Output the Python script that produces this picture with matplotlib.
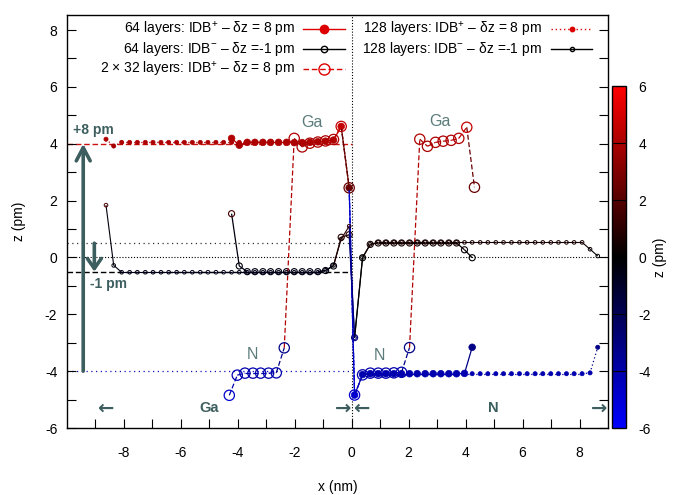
import numpy as np
import matplotlib
matplotlib.use('Agg')
import matplotlib.pyplot as plt
from matplotlib.collections import LineCollection
from matplotlib.colors import LinearSegmentedColormap, Normalize
from matplotlib.cm import ScalarMappable
from matplotlib.ticker import FixedLocator

plt.rcParams['font.family'] = ['Liberation Sans', 'DejaVu Sans']
plt.rcParams['mathtext.fontset'] = 'custom'
plt.rcParams['mathtext.rm'] = 'Liberation Sans'
plt.rcParams['mathtext.it'] = 'Liberation Sans:italic'
plt.rcParams['mathtext.bf'] = 'Liberation Sans:bold'
plt.rcParams['axes.unicode_minus'] = False

# ---------------- data ----------------
x128 = [-8.63, -8.36, -8.08, -7.80, -7.53, -7.25, -6.98, -6.70, -6.43, -6.15, -5.88, -5.60,
        -5.32, -5.05, -4.77, -4.50, -4.22, -3.95, -3.67, -3.40, -3.12, -2.85, -2.57, -2.29,
        -2.02, -1.74, -1.47, -1.19, -0.92, -0.64, -0.37, -0.09,
        0.10, 0.38, 0.65, 0.93, 1.20, 1.48, 1.75, 2.03, 2.30, 2.58, 2.86, 3.13, 3.41, 3.68,
        3.96, 4.23, 4.51, 4.78, 5.06, 5.33, 5.61, 5.89, 6.16, 6.44, 6.71, 6.99, 7.26, 7.54,
        7.81, 8.09, 8.37, 8.64]
z128_plus = [4.16, 3.92, 4.05, 4.05, 4.05, 4.05, 4.05, 4.05, 4.05, 4.05, 4.05, 4.05,
             4.05, 4.05, 4.05, 4.05, 4.05, 4.05, 4.05, 4.05, 4.05, 4.05, 4.05, 4.05,
             4.04, 4.04, 4.05, 4.07, 4.09, 4.13, 4.61, 2.45,
             -4.84, -4.12, -4.09, -4.09, -4.09, -4.09, -4.09, -4.09, -4.09, -4.09, -4.09, -4.09,
             -4.09, -4.09, -4.09, -4.09, -4.09, -4.09, -4.09, -4.09, -4.09, -4.09, -4.09, -4.09,
             -4.09, -4.09, -4.09, -4.09, -4.09, -4.09, -4.06, -3.16]
z128_minus = [1.84, -0.28, -0.52, -0.52, -0.52, -0.52, -0.52, -0.52, -0.52, -0.52, -0.52, -0.52,
              -0.52, -0.52, -0.52, -0.52, -0.52, -0.52, -0.52, -0.52, -0.52, -0.52, -0.52, -0.52,
              -0.52, -0.52, -0.52, -0.52, -0.45, -0.28, 0.65, 1.10,
              -2.82, 0.00, 0.46, 0.53, 0.53, 0.53, 0.53, 0.53, 0.53, 0.53, 0.53, 0.53,
              0.53, 0.53, 0.53, 0.53, 0.53, 0.53, 0.53, 0.53, 0.53, 0.53, 0.53, 0.53,
              0.53, 0.53, 0.53, 0.53, 0.53, 0.53, 0.29, 0.05]

x64 = [-4.22, -3.95, -3.67, -3.40, -3.12, -2.85, -2.57, -2.29, -2.02, -1.74, -1.47, -1.19,
       -0.92, -0.64, -0.37, -0.09,
       0.10, 0.38, 0.65, 0.93, 1.20, 1.48, 1.75, 2.03, 2.30, 2.58, 2.86, 3.13, 3.41, 3.68,
       3.96, 4.23]
z64_plus = [4.19, 3.95, 4.05, 4.05, 4.05, 4.05, 4.05, 4.05, 4.04, 4.04, 4.05, 4.07,
            4.09, 4.13, 4.61, 2.45,
            -4.84, -4.12, -4.09, -4.09, -4.09, -4.09, -4.09, -4.09, -4.09, -4.09, -4.09, -4.09,
            -4.09, -4.09, -4.08, -3.16]
z64_minus = [1.54, -0.30, -0.50, -0.50, -0.50, -0.50, -0.50, -0.50, -0.50, -0.50, -0.50, -0.50,
             -0.46, -0.30, 0.71, 0.80,
             -2.82, -0.01, 0.46, 0.51, 0.51, 0.51, 0.51, 0.51, 0.51, 0.51, 0.51, 0.51,
             0.51, 0.51, 0.27, -0.01]

x2x32 = [-4.30, -4.02, -3.75, -3.47, -3.20, -2.92, -2.65, -2.37,
         -2.02, -1.74, -1.47, -1.19, -0.92, -0.64, -0.37, -0.09,
         0.10, 0.38, 0.65, 0.93, 1.20, 1.48, 1.75, 2.03,
         2.39, 2.66, 2.94, 3.21, 3.49, 3.76, 4.04, 4.31]
z2x32 = [-4.85, -4.14, -4.07, -4.07, -4.07, -4.07, -4.06, -3.18,
         4.19, 3.89, 4.02, 4.06, 4.10, 4.15, 4.61, 2.45,
         -4.84, -4.13, -4.07, -4.07, -4.07, -4.06, -4.04, -3.17,
         4.16, 3.91, 4.05, 4.09, 4.12, 4.19, 4.58, 2.47]

labels = ["64 layers: IDB$^{+}$ – δz = 8 pm",
          "64 layers: IDB$^{-}$ – δz =-1 pm",
          "2 × 32 layers: IDB$^{+}$ – δz = 8 pm",
          "128 layers: IDB$^{+}$ – δz = 8 pm",
          "128 layers: IDB$^{-}$ – δz =-1 pm"]

# ---------------- figure ----------------
W, H = 678, 495
fig = plt.figure(figsize=(W / 100, H / 100), dpi=100)
L, R, T, B = 67, 608, 15, 428
ax = fig.add_axes([L / W, (H - B) / H, (R - L) / W, (B - T) / H])
ax.set_xlim(-10, 9)
ax.set_ylim(-6, 8.53)

cmap = LinearSegmentedColormap.from_list('bkr', [(0, (0, 0, 1)), (0.5, (0, 0, 0)), (1, (1, 0, 0))])
norm = Normalize(-6, 6)
slate = '#3d5e5e'
slate_l = '#5b7b7b'
red = '#dd0000'

# reference lines
ax.axvline(0, color='black', lw=0.8, ls=(0, (1, 1.6)), zorder=1)
ax.plot([-10, 9], [0, 0], color='black', lw=0.8, ls=(0, (1, 1.6)), zorder=1)
ax.plot([-10, 0], [0.5, 0.5], color='#333333', lw=0.9, ls=(0, (1, 2.8)), zorder=1)
ax.plot([-10, 0], [-0.5, -0.5], color='black', lw=1.0, ls=(0, (4, 2)), zorder=1)
ax.plot([-10, 0], [4, 4], color='#cc1111', lw=1.0, ls=(0, (4, 2)), zorder=1)
ax.plot([-10, 0], [-4, -4], color='#1111bb', lw=0.9, ls=(0, (1, 2.8)), zorder=1)


def series(x, z, ls, lw, ms, filled, zo, mew=0.8):
    x = np.asarray(x); z = np.asarray(z)
    pts = np.column_stack([x, z])
    segs = [pts[i:i + 2] for i in range(len(pts) - 1)]
    lc = LineCollection(segs, colors=cmap(norm(z[1:])), linestyles=ls, linewidths=lw, zorder=zo)
    ax.add_collection(lc)
    c = cmap(norm(z))
    if filled:
        ax.scatter(x, z, s=ms ** 2, c=c, edgecolors=c, linewidths=0.5, zorder=zo + 0.1)
    else:
        ax.scatter(x, z, s=ms ** 2, facecolors='none', edgecolors=c, linewidths=mew, zorder=zo + 0.1)


series(x64, z64_plus, '-', 0.9, 4.8, True, 3)
series(x64, z64_minus, '-', 0.9, 4.4, False, 3)
series(x2x32, z2x32, (0, (4, 2)), 0.9, 7.4, False, 4, mew=0.9)
series(x128, z128_plus, (0, (1, 2)), 0.9, 3.0, True, 5)
series(x128, z128_minus, '-', 0.8, 2.6, False, 5, mew=0.7)

# ---------------- legend (manual) ----------------
def fx(px):
    return (px - L) / (R - L)


def fy(py):
    return (B - py) / (B - T)


rows = [(295, 29, 303, 345, red, '-', 'o', 6.0, True),
        (295, 49, 303, 345, 'black', '-', 'o', 4.6, False),
        (295, 69, 303, 345, red, (0, (4, 2)), 'o', 8.0, False),
        (542, 29, 551, 592, red, (0, (1, 2)), 'o', 3.2, True),
        (542, 49, 551, 592, 'black', '-', 'o', 3.0, False)]
for lab, (tx, ty, l0, l1, col, ls, mk, ms, filled) in zip(labels, rows):
    ax.text(fx(tx), fy(ty), lab, transform=ax.transAxes, ha='right', va='center', fontsize=10)
    ax.plot([fx(l0), fx(l1)], [fy(ty), fy(ty)], transform=ax.transAxes, color=col, ls=ls, lw=1.0,
            clip_on=False, zorder=6)
    ax.plot([fx((l0 + l1) / 2)], [fy(ty)], transform=ax.transAxes, marker=mk, ms=ms,
            mfc=col if filled else 'none', mec=col, mew=1.0, clip_on=False, zorder=6)

# ---------------- annotations ----------------
ax.annotate('', xy=(-9.43, 4.0), xytext=(-9.43, -4.0),
            arrowprops=dict(arrowstyle='->,head_length=0.95,head_width=0.5', lw=2.6, color=slate,
                            shrinkA=0, shrinkB=0))
ax.annotate('', xy=(-9.04, -0.5), xytext=(-9.04, 0.5),
            arrowprops=dict(arrowstyle='->,head_length=0.72,head_width=0.5', lw=2.6, color=slate,
                            shrinkA=0, shrinkB=0))
ax.text(-9.8, 4.48, '+8 pm', color=slate, fontsize=10, fontweight='bold', ha='left', va='center')
ax.text(-9.2, -0.92, '-1 pm', color=slate, fontsize=10, fontweight='bold', ha='left', va='center')
ax.text(-1.40, 4.75, 'Ga', color=slate_l, fontsize=11.5, ha='center', va='center')
ax.text(3.10, 4.78, 'Ga', color=slate_l, fontsize=11.5, ha='center', va='center')
ax.text(-3.50, -3.42, 'N', color=slate_l, fontsize=11.5, ha='center', va='center')
ax.text(0.98, -3.44, 'N', color=slate_l, fontsize=11.5, ha='center', va='center')
ax.text(-5.0, -5.31, 'Ga', color=slate, fontsize=10.5, fontweight='bold', ha='center', va='center')
ax.text(4.98, -5.31, 'N', color=slate, fontsize=10.5, fontweight='bold', ha='center', va='center')
for xa, g in [(-8.67, '←'), (-0.32, '→'), (0.34, '←'), (8.68, '→')]:
    ax.text(xa, -5.31, g, color=slate, fontsize=14, fontweight='bold', ha='center', va='center',
            family='DejaVu Sans')

# ---------------- axes styling ----------------
ax.xaxis.set_major_locator(FixedLocator([-8, -6, -4, -2, 0, 2, 4, 6, 8]))
ax.xaxis.set_minor_locator(FixedLocator([-9, -7, -5, -3, -1, 1, 3, 5, 7]))
ax.yaxis.set_major_locator(FixedLocator([-6, -4, -2, 0, 2, 4, 6, 8]))
ax.yaxis.set_minor_locator(FixedLocator([-5, -3, -1, 1, 3, 5, 7]))
ax.tick_params(which='both', direction='in', length=6.3, width=0.8, top=False, right=True,
               labelsize=10)
ax.tick_params(axis='x', pad=13)
ax.tick_params(axis='y', pad=7)
for s in ax.spines.values():
    s.set_linewidth(1.0)
ax.set_xlabel('x (nm)', fontsize=10)
ax.set_ylabel('z (pm)', fontsize=10)
ax.xaxis.set_label_coords(0.5, -0.125)
ax.yaxis.set_label_coords(-0.075, 0.5)

# ---------------- colorbar ----------------
cax = fig.add_axes([611.7 / W, (H - 428.3) / H, 14 / W, (428.3 - 86) / H])
sm = ScalarMappable(norm=norm, cmap=cmap)
cb = fig.colorbar(sm, cax=cax, ticks=[-6, -4, -2, 0, 2, 4, 6])
cb.ax.tick_params(length=0, pad=9, labelsize=10)
cb.outline.set_linewidth(1.0)
for t in [-4, -2, 0, 2, 4]:
    cb.ax.axhline(t, color='black', lw=0.8)
cb.set_label('z (pm)', fontsize=10, labelpad=2)

fig.savefig('out.png', dpi=100)
